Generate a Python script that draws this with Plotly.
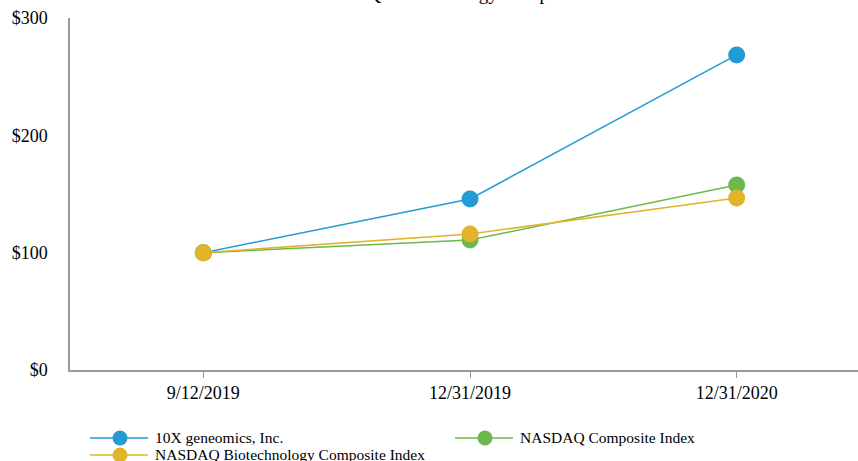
import plotly.graph_objects as go

categories = ["9/12/2019", "12/31/2019", "12/31/2020"]
tenx = [100, 145.8, 268.5]
nasdaq_comp = [100, 110.8, 157.7]
nasdaq_bio = [100, 115.9, 146.6]
y_ticks = [0, 100, 200, 300]
y_tick_labels = ["$0", "$100", "$200", "$300"]

series_names = ["10X geneomics, Inc.", "NASDAQ Composite Index",
                "NASDAQ Biotechnology Composite Index"]
series_values = [tenx, nasdaq_comp, nasdaq_bio]
series_colors = ["#239bd5", "#6db84c", "#e2b42b"]

font_family = "Liberation Serif"

# plot-area geometry in pixels (for legend placement)
W, H = 858, 461
L, R, T, B = 70, 0, 18, 91
pw, ph = W - L - R, H - T - B


def px_x(px):
    return (px - L) / pw


def px_y(py):
    return (H - B - py) / ph


fig = go.Figure()
for name, vals, col in zip(series_names, series_values, series_colors):
    fig.add_trace(go.Scatter(
        x=list(range(len(categories))), y=vals, name=name, mode="lines+markers",
        line=dict(color=col, width=1.5),
        marker=dict(color=col, size=17),
        showlegend=False,
    ))

# manual legend (two columns, tight row spacing as in the reference)
legend_slots = [(90, 438), (455, 438), (90, 455)]
for (lx, ly), name, col in zip(legend_slots, series_names, series_colors):
    fig.add_shape(type="line", xref="paper", yref="paper",
                  x0=px_x(lx), x1=px_x(lx + 58), y0=px_y(ly), y1=px_y(ly),
                  line=dict(color=col, width=1.5), layer="above")
    fig.add_shape(type="circle", xref="paper", yref="paper",
                  xsizemode="pixel", ysizemode="pixel",
                  xanchor=px_x(lx + 30), yanchor=px_y(ly),
                  x0=-7.5, x1=7.5, y0=-7.5, y1=7.5,
                  fillcolor=col, line=dict(width=0), layer="above")
    fig.add_annotation(text=name, xref="paper", yref="paper",
                       x=px_x(lx + 63), y=px_y(ly - 1), xanchor="left", yanchor="middle",
                       showarrow=False,
                       font=dict(family=font_family, size=15.5, color="#000"))

fig.update_layout(
    width=W, height=H,
    margin=dict(l=L, r=R, t=T, b=B, autoexpand=False),
    plot_bgcolor="white", paper_bgcolor="white",
    font=dict(family=font_family, size=18, color="#000"),
    showlegend=False,
    xaxis=dict(
        tickmode="array", tickvals=list(range(len(categories))), ticktext=categories,
        range=[-0.5, 2.455], showgrid=False, zeroline=False,
        showline=True, linecolor="#9a9a9a", linewidth=1.5,
        ticks="outside", ticklen=6, tickcolor="#9a9a9a", tickwidth=1,
        tickfont=dict(family=font_family, size=18, color="#000"),
    ),
    yaxis=dict(
        tickmode="array", tickvals=y_ticks, ticktext=y_tick_labels,
        range=[0, 300], showgrid=False, zeroline=False,
        showline=True, linecolor="#9a9a9a", linewidth=1.5,
        ticks="", ticklabelstandoff=17,
        tickfont=dict(family=font_family, size=18, color="#000"),
    ),
)

# chart title: only its lowest part falls inside the picture, as in the reference
fig.add_annotation(
    text="NASDAQ Biotechnology Composite Index",
    xref="paper", yref="paper", x=px_x(300), y=1.0, yshift=12,
    xanchor="left", yanchor="bottom", showarrow=False,
    font=dict(family=font_family, size=19, color="#000"),
)

fig.write_html("out.html")
